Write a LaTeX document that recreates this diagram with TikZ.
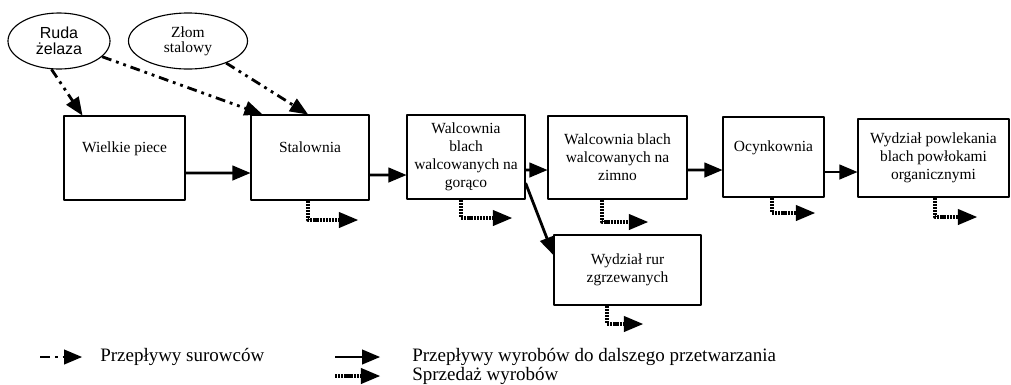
\documentclass[tikz,border=0pt]{standalone}
\usepackage{fontspec}
\setmainfont{Liberation Serif}
\newfontfamily\rudafont{Liberation Sans}
\usepackage{tikz}
\usetikzlibrary{
  shapes.geometric,
  calc
}
\usetikzlibrary{arrows}
\tikzset{
  box/.style={draw, line width=0.8pt, inner sep=1pt, align=center, font=\fontsize{11}{12.8}\selectfont},
  high/.style={text height=0.75em, text depth=1.5em},
  oval/.style={draw, ellipse, line width=0.8pt, inner sep=0pt, align=center, minimum height=1.4cm},
  raw/.style={->, line width=2pt, dash pattern=on 7pt off 3.5pt on 2pt off 3.5pt on 2pt off 3.5pt},
  product/.style={->, line width=2pt},
  sale/.style={->, line width=2.2pt, dash pattern=on 1.6pt off 0.6pt},
  legendtext/.style={anchor=west, inner sep=0pt, font=\fontsize{13.5}{15}\selectfont}
}

\begin{document}
\begin{tikzpicture}[line join=round,>=triangle 45,x=0.025cm,y=-0.025cm]
\useasboundingbox (0,0) rectangle (1011,384);
\node [oval, minimum width=2.55cm, font=\rudafont\fontsize{11.4}{11.4}\selectfont] (ruda) at (59,41) {Ruda\\żelaza};
\node [oval, minimum width=2.975cm, font=\fontsize{11}{10.8}\selectfont] (zlom) at (188,41) {Złom\\stalowy};
\node [box, high, minimum width=3.025cm, minimum height=2.1cm] (wp) at (124.5,158) {Wielkie piece};
\node [box, high, minimum width=2.95cm, minimum height=2.125cm] (st) at (310,157.5) {Stalownia};
\node [box, minimum width=2.95cm, minimum height=2.1cm] (wg) at (466,157) {Walcownia\\blach\\walcowanych na\\gorąco};
\node [box, minimum width=3.475cm, minimum height=2.075cm] (wz) at (617.5,157.5) {Walcownia blach\\walcowanych na\\zimno};
\node [box, high, minimum width=2.525cm, minimum height=2cm] (oc) at (773.5,157) {Ocynkownia};
\node [box, minimum width=3.775cm, minimum height=1.95cm] (pw) at (933.5,158) {Wydział powlekania\\blach powłokami\\organicznymi};
\node [box, minimum width=3.675cm, minimum height=1.75cm] (rr) at (627.5,270) {Wydział rur\\zgrzewanych};

\draw [raw] (ruda.255) -- ($(wp.north west)+(19,0)$);
\draw [raw] (ruda.340) -- ($(st.north west)+(12,0)$);
\draw [raw] (zlom.330) -- ($(st.north)+(-2,0)$);

\draw [product] ($(wp.east)+(0,15)$) -- ($(st.west)+(0,15.5)$);
\draw [product] ($(st.east)+(0,17.5)$) -- ($(wg.west)+(0,18)$);
\draw [product] ($(wg.east)+(0,13)$) -- ($(wz.west)+(0,12.5)$);
\draw [product] ($(wz.east)+(0,12.5)$) -- ($(oc.west)+(0,13)$);
\draw [product] ($(oc.east)+(0,15)$) -- ($(pw.west)+(0,14)$);
\draw [product] ($(wg.east)+(0,26)$) -- ($(rr.west)+(0,-15)$);

\coordinate (st-out) at (358,220);
\coordinate (wg-out) at (512,218);
\coordinate (wz-out) at (648,222);
\coordinate (oc-out) at (815,213);
\coordinate (pw-out) at (977,217);
\coordinate (rr-out) at (643,324);
\draw [sale] ($(st.south)+(-2,0)$) |- (st-out);
\draw [sale] ($(wg.south)+(-5,0)$) |- (wg-out);
\draw [sale] ($(wz.south)+(-15.5,0)$) |- (wz-out);
\draw [sale] ($(oc.south)+(-1.5,0)$) |- (oc-out);
\draw [sale] ($(pw.south)+(1.5,0)$) |- (pw-out);
\draw [sale] ($(rr.south)+(-20.5,0)$) |- (rr-out);

\coordinate (raw-a) at (40,357);
\coordinate (raw-b) at (82,357);
\coordinate (product-a) at (335,357);
\coordinate (product-b) at (380,357);
\coordinate (sale-a) at (335,376);
\coordinate (sale-b) at (380,376);
\draw [raw] (raw-a) -- (raw-b);
\draw [product] (product-a) -- (product-b);
\draw [sale] (sale-a) -- (sale-b);
\node [legendtext] (raw-text) at (100,357) {Przepływy surowców};
\node [legendtext] (product-text) at (412,357) {Przepływy wyrobów do dalszego przetwarzania};
\node [legendtext] (sale-text) at (412,376) {Sprzedaż wyrobów};
\end{tikzpicture}
\end{document}
